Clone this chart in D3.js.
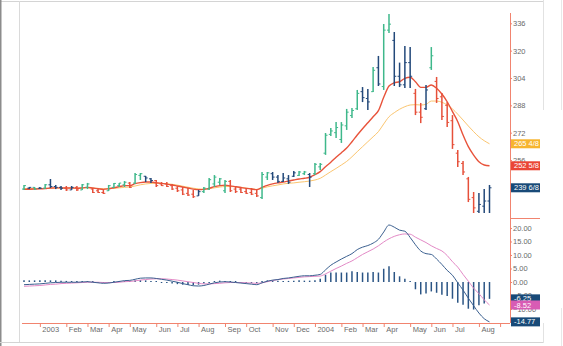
<!DOCTYPE html>
<html><head><meta charset="utf-8">
<script src="https://cdn.jsdelivr.net/npm/d3@7/dist/d3.min.js"></script>
<style>
body{margin:0;background:#fff}
svg{display:block}
text{font-family:"Liberation Sans Narrow","Liberation Sans",Arial,sans-serif}
</style>
</head><body>
<svg id="chart" width="563" height="346"></svg>
<script>
// ---------- DATA (weekly bars, Fridays) ----------
const firstWeek = new Date(2002, 11, 13);
const lastWeek = new Date(2004, 7, 20);

const open = [239,239.5,240,239.5,239.5,241.5,240.5,240,239.5,238.5,240,238.5,240,239,238,237,238,240,241,241.5,
242.5,242.5,247,246.5,245,244,242,242,241,239.5,238.5,236.5,236,235,237.5,239,242,243,238,243.5,
239,239,237.5,237,236.5,234,246,248,246,243.5,245,246.5,247,248,247.5,248,252,260,271,272,
268,276,282,286,296,292,296,310,299,332,326,305,300,313,295,284,286,310,302,293,
288,279,260,254,245,234,226,229,232];
const high = [241.4,240.2,240.2,240.2,242,244.9,241.4,240.8,240.8,240.8,240.8,242,242.6,239.6,239,238.5,241.4,242.6,242.6,243.7,
243.1,248.4,248.4,246.7,245.5,244.3,243.1,243.1,242,240.8,240.2,239.6,238.5,238.5,240.2,245.5,247.2,245.5,244.3,244.3,
240.2,240.2,239.6,239.6,239,249,249,249,247.2,248.4,247.2,249.6,249.6,249.6,248.4,254.3,254.3,271.8,274.7,278.2,
278.2,285.9,286.4,297,298.7,297.6,310.4,316.9,335.6,341.4,330.9,313,322.7,322.1,297.6,289.4,299.9,322.1,304.6,295.2,
289.9,282.3,261.9,255.4,246.1,237.3,236.7,239,241.4];
const low = [238.5,239,238.5,239,239,239.6,239,238.5,237.9,238.5,237.9,238.5,239,236.7,236.7,236.1,237.9,239.6,240.2,240.2,
239.6,242,244.3,243.1,242.6,240.2,240.8,240.2,238.5,237.3,235.5,235,233.8,235,236.7,238.5,240.2,241.4,236.7,237.3,
236.7,236.7,236.1,235.5,234.4,233.2,244.3,244.3,242.6,243.1,242,246.1,246.7,247.2,240.2,247.2,250.2,259,270.1,268.9,
266,273.6,280.6,285.3,289.9,285.3,295.8,299.3,297,330.3,299.3,298.7,298.1,298.1,282.3,277.6,285.3,308.7,289.4,279.4,
275.3,262.5,251.9,247.2,231.4,225,225,225,225];
const close = [241,240,239,239.5,241.5,240.5,240,239.5,238.5,240,238.5,241.5,242,237,237,236.5,241,242.3,242.5,243,
240,247.5,248,245.5,244,241,241,240.5,239,238,236,235.5,234.5,237.5,239.5,244.5,246,245,243.5,238,
237.5,237,236.5,236,235,247.5,248.5,246,243.5,245.5,243,248.5,249,249,246,253.5,253.5,270.5,273,275,
276.5,284,285,295,292.5,290,308.5,300.5,332,335.5,305,300,313,305,284,281,297,317,292,281.5,
278,265,255,249,233,228,230,232,239.75];
// impulse colour of each bar: g = green, b = blue, r = red
const barColor = ["g","b","g","b","g","b","b","b","r","b","r","g","g","r","r","r","g","g","g","g",
"r","g","g","b","b","r","r","r","r","r","r","r","r","b","g","g","g","g","g","r",
"r","r","r","r","r","g","g","b","b","b","b","b","g","g","b","g","g","g","g","g",
"g","g","g","g","b","b","g","b","g","g","b","b","b","b","r","r","b","g","r","r",
"r","r","r","r","r","r","b","b","b"];
const maFast = [238.8,238.9,239.0,239.1,239.3,239.6,239.7,239.7,239.6,239.6,239.5,239.7,240.0,239.6,239.2,238.8,239.2,239.8,240.4,241.0,
241.0,242.2,242.8,243.1,243.1,242.7,242.3,241.9,241.4,240.8,240.2,239.6,239.0,238.7,238.8,239.5,240.4,241.0,241.3,240.9,
240.4,239.9,239.4,239.0,238.7,240.0,241.2,242.0,242.6,243.1,243.7,244.3,244.9,245.3,245.9,247.4,249.2,252.1,254.7,257.6,
260.3,263.0,266.7,270.6,274.3,277.8,281.3,284.9,292.7,299.3,301.2,301.8,303.8,304.4,301.8,298.5,298.5,299.9,298.0,294.6,
290.1,284.3,278.4,270.6,263.8,258.9,255.0,253.1,252.625];
const maSlow = [239.3,239.3,239.3,239.3,239.4,239.5,239.6,239.6,239.6,239.6,239.6,239.6,239.7,239.6,239.4,239.2,239.2,239.4,239.7,240.0,
240.2,240.8,241.5,242.0,242.3,242.4,242.3,242.1,241.8,241.3,240.7,240.1,239.5,239.1,238.9,239.2,239.7,240.2,240.5,240.5,
240.3,240.0,239.6,239.2,238.8,239.5,240.3,240.9,241.4,242.0,242.4,242.6,243.0,243.3,243.7,244.3,245.3,247.2,249.2,251.1,
253.1,255.2,257.9,260.9,263.8,266.7,269.6,272.6,277.1,281.3,283.7,285.7,287.2,288.2,288.4,288.2,288.6,290.5,290.5,289.8,
288.2,285.9,282.8,279.4,275.9,272.6,269.6,267.3,265.5];
const macdLine = [-1.0,-0.9,-0.8,-0.7,-0.5,-0.3,-0.2,-0.1,-0.1,-0.1,-0.1,0.0,0.1,-0.1,-0.3,-0.5,-0.4,-0.1,0.2,0.5,
0.6,1.0,1.4,1.5,1.5,1.3,1.0,0.7,0.3,-0.1,-0.6,-1.0,-1.4,-1.5,-1.3,-0.8,-0.3,0.0,0.1,0.0,
-0.2,-0.4,-0.6,-0.8,-1.0,-0.3,0.3,0.7,0.9,1.3,1.5,1.8,2.1,2.3,2.3,2.5,2.8,4.5,6.2,7.4,
8.5,9.5,10.5,12.0,12.9,13.5,14.4,15.8,18.5,21.1,20.3,19.2,18.8,16.5,13.8,11.5,10.5,10.2,8.5,6.5,
4.3,2.5,-0.3,-3.0,-6.0,-8.8,-11.5,-13.6,-14.77];
const signalLine = [-1.6,-1.5,-1.4,-1.3,-1.1,-0.9,-0.8,-0.6,-0.5,-0.4,-0.3,-0.2,-0.1,-0.1,-0.1,-0.2,-0.2,-0.2,-0.1,0.1,
0.2,0.4,0.7,0.9,1.1,1.2,1.2,1.1,0.9,0.7,0.4,0.1,-0.2,-0.5,-0.7,-0.7,-0.6,-0.5,-0.3,-0.2,
-0.2,-0.2,-0.3,-0.4,-0.5,-0.3,0.1,0.5,0.9,1.1,1.3,1.5,1.7,1.9,2.0,2.1,2.2,3.0,4.0,5.0,
5.9,6.9,7.8,9.0,10.2,11.2,12.2,13.4,14.8,16.0,16.9,17.5,17.8,17.7,16.6,15.6,14.6,13.4,12.4,11.5,
9.8,7.5,5.5,2.8,0.3,-2.3,-4.3,-6.6,-8.52];
const histogram = [0.6,0.6,0.6,0.6,0.6,0.6,0.6,0.5,0.4,0.3,0.2,0.2,0.2,0.0,-0.2,-0.3,-0.2,0.1,0.3,0.4,
0.4,0.6,0.7,0.6,0.4,0.1,-0.2,-0.4,-0.6,-0.8,-1.0,-1.1,-1.2,-1.0,-0.6,-0.1,0.3,0.5,0.4,0.2,
0.0,-0.2,-0.3,-0.4,-0.5,0.0,0.6,0.6,0.5,0.4,0.4,0.5,0.6,0.5,0.5,0.6,1.2,2.7,3.5,3.5,
3.5,3.5,4.0,3.7,3.5,3.5,3.7,3.5,4.9,5.8,3.7,2.1,1.2,0.1,-2.7,-4.6,-4.3,-3.5,-4.0,-4.7,
-5.2,-6.2,-7.7,-8.4,-9.9,-10.2,-8.6,-8.0,-6.25];
const priceTicks = [336,320,304,288,272,256];
const macdTicks = [20,15,10,5,0,-5,-10];
const priceBoxes = [{label:"265 4/8", value:265.5, key:"slow"},{label:"252 5/8", value:252.625, key:"fast"},{label:"239 6/8", value:239.75, key:"bar"}];
const macdBoxes = [{label:"-6.25", value:-6.25, key:"hist"},{label:"-8.52", value:-8.52, key:"signal"},{label:"-14.77", value:-14.77, key:"macd"}];

// ---------- STYLE ----------
const C = {g:"#3fb88b", b:"#23497a", r:"#e6503a", fast:"#e8533b", slow:"#fbc56f",
  macd:"#3a5f8f", signal:"#e389c6", hist:"#2b5585", axis:"#f1846f", text:"#6a6a6a",
  boxslow:"#f7b52e", boxfast:"#ea4636", boxbar:"#184a78", boxhist:"#184a78", boxsignal:"#d85cb4", boxmacd:"#184a78"};

const weeks = d3.timeFriday.range(firstWeek, d3.timeDay.offset(lastWeek, 1));
const svg = d3.select("#chart");

// frame
const frame = svg.append("g").attr("fill","none");
frame.append("line").attr("x1",0).attr("x2",543).attr("y1",1.5).attr("y2",1.5).attr("stroke","#d4d4d4");
frame.append("line").attr("x1",0.75).attr("x2",0.75).attr("y1",0).attr("y2",346).attr("stroke","#8c8c8c").attr("stroke-width",1.5);
frame.append("line").attr("x1",19.5).attr("x2",19.5).attr("y1",1).attr("y2",343).attr("stroke","#dadada");
frame.append("line").attr("x1",0).attr("x2",543).attr("y1",342.5).attr("y2",342.5).attr("stroke","#d4d4d4");
frame.append("line").attr("x1",543.5).attr("x2",543.5).attr("y1",0).attr("y2",110).attr("stroke","#e2e2e2");
frame.append("line").attr("x1",543.5).attr("x2",543.5).attr("y1",323).attr("y2",343).attr("stroke","#e2e2e2");
frame.append("line").attr("x1",561.5).attr("x2",561.5).attr("y1",0).attr("y2",110).attr("stroke","#e8e8e8");
frame.append("line").attr("x1",561.5).attr("x2",561.5).attr("y1",308).attr("y2",346).attr("stroke","#e8e8e8");

// scales
const x = d3.scaleTime().domain([weeks[0], weeks[weeks.length-1]]).range([24, 489.5]);
const y = d3.scaleLinear().domain([222.07, 342.03]).range([218, 13]);
const ym = d3.scaleLinear().domain([-15.19, 23.7]).range([323, 218]);
const axisX = 510;

// axes lines
svg.append("line").attr("x1",axisX+0.5).attr("x2",axisX+0.5).attr("y1",13).attr("y2",323).attr("stroke",C.axis);
svg.append("line").attr("x1",axisX).attr("x2",540).attr("y1",218.5).attr("y2",218.5).attr("stroke",C.axis);
svg.append("line").attr("x1",22).attr("x2",axisX).attr("y1",323.5).attr("y2",323.5).attr("stroke",C.axis);

// price axis ticks
const pa = svg.append("g").attr("transform",`translate(${axisX},0)`)
  .call(d3.axisRight(y).tickValues(priceTicks).tickSize(2).tickPadding(1));
pa.select(".domain").remove();
pa.selectAll(".tick line").attr("stroke",C.axis);
pa.selectAll(".tick text").attr("fill",C.text).attr("font-size",7.5).attr("font-family",null);

const ma = svg.append("g").attr("transform",`translate(${axisX},0)`)
  .call(d3.axisRight(ym).tickValues(macdTicks).tickSize(2).tickPadding(1).tickFormat(d3.format(".2f")));
ma.select(".domain").remove();
ma.selectAll(".tick line").attr("stroke",C.axis);
ma.selectAll(".tick text").attr("fill",C.text).attr("font-size",7.5).attr("font-family",null);

// x axis month ticks
const tickDates = d3.timeFriday.range(weeks[0], d3.timeFriday.offset(weeks[weeks.length-1], 3))
  .filter((d,i)=> i>0 && d.getDate() <= 7);
const xa = svg.append("g").attr("transform","translate(0,323)")
  .call(d3.axisBottom(x).tickValues(tickDates).tickSize(4).tickSizeOuter(0)
    .tickFormat(d => d.getMonth()===0 ? d3.timeFormat("%Y")(d) : d3.timeFormat("%b")(d)));
xa.select(".domain").remove();
xa.selectAll(".tick line").attr("stroke",C.axis);
xa.selectAll(".tick text").attr("fill",C.text).attr("font-size",7.5).attr("font-family",null)
  .attr("text-anchor","start").attr("x",2).attr("y",4).attr("dy","0.71em")
  .style("display", d => x(d) > 495 ? "none" : null);

// moving averages
const lineP = arr => d3.line().x((d,i)=>x(weeks[i])).y(d=>y(d)).curve(d3.curveMonotoneX)(arr);
svg.append("path").attr("d",lineP(maSlow)).attr("fill","none").attr("stroke",C.slow).attr("stroke-width",1);
svg.append("path").attr("d",lineP(maFast)).attr("fill","none").attr("stroke",C.fast).attr("stroke-width",1.4);

// OHLC bars
const bars = svg.append("g").selectAll("g").data(weeks).join("g")
  .attr("stroke", (d,i)=>C[barColor[i]]);
bars.append("line").attr("x1",d=>x(d)).attr("x2",d=>x(d))
  .attr("y1",(d,i)=>y(high[i])).attr("y2",(d,i)=>y(low[i])).attr("stroke-width",1.5);
bars.append("line").attr("x1",d=>x(d)-2).attr("x2",d=>x(d))
  .attr("y1",(d,i)=>y(open[i])).attr("y2",(d,i)=>y(open[i])).attr("stroke-width",1);
bars.append("line").attr("x1",d=>x(d)).attr("x2",d=>x(d)+2)
  .attr("y1",(d,i)=>y(close[i])).attr("y2",(d,i)=>y(close[i])).attr("stroke-width",1);

// MACD histogram
svg.append("g").selectAll("line").data(weeks).join("line")
  .attr("x1",d=>x(d)).attr("x2",d=>x(d))
  .attr("y1",ym(0)).attr("y2",(d,i)=> Math.abs(ym(histogram[i])-ym(0))<1 ? ym(0)+(histogram[i]>=0?-1:1) : ym(histogram[i]))
  .attr("stroke",C.hist).attr("stroke-width",1.5);

const lineM = arr => d3.line().x((d,i)=>x(weeks[i])).y(d=>ym(d)).curve(d3.curveMonotoneX)(arr);
svg.append("path").attr("d",lineM(signalLine)).attr("fill","none").attr("stroke",C.signal).attr("stroke-width",1);
svg.append("path").attr("d",lineM(macdLine)).attr("fill","none").attr("stroke",C.macd).attr("stroke-width",1);

// value boxes
function boxes(list, scale){
  const g = svg.append("g").selectAll("g").data(list).join("g")
    .attr("transform", d=>`translate(${axisX+1},${scale(d.value)})`);
  g.append("rect").attr("x",0).attr("y",-4.5).attr("width",29).attr("height",9)
    .attr("fill", d=>C["box"+d.key]);
  g.append("text").attr("x",3).attr("y",0).attr("dy","0.35em").attr("font-size",7.5)
    .attr("fill","#fff").text(d=>d.label);
}
boxes(priceBoxes, y);
boxes(macdBoxes, ym);
</script>
</body></html>
